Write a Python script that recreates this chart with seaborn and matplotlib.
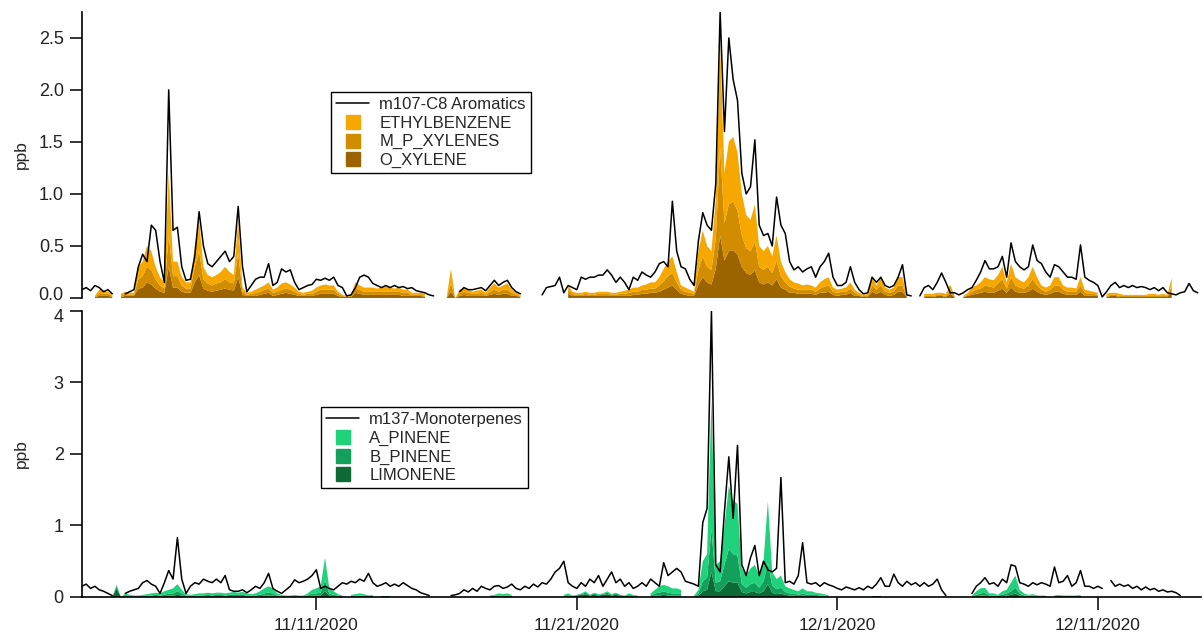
import numpy as np
import pandas as pd
import matplotlib
matplotlib.use("Agg")
import matplotlib.pyplot as plt
import matplotlib.transforms as mtransforms
from matplotlib.lines import Line2D
import seaborn as sns

nan = np.nan

# 4-hourly values, starting 11/2/2020 00:00 (one row = one day)
start_time = "2020-11-02 00:00"
step = "4h"

c8_total = [
    0.08, 0.1, 0.07, 0.12, 0.1, 0.06,
    0.08, 0.04, nan, nan, 0.04, 0.06,
    0.08, 0.3, 0.42, 0.35, 0.7, 0.65,
    0.35, 0.15, 2.0, 0.65, 0.68, 0.3,
    0.17, 0.18, 0.4, 0.83, 0.5, 0.33,
    0.3, 0.35, 0.4, 0.45, 0.35, 0.4,
    0.88, 0.3, 0.06, 0.12, 0.18, 0.2,
    0.2, 0.33, 0.12, 0.15, 0.28, 0.25,
    0.27, 0.15, 0.08, 0.1, 0.12, 0.13,
    0.18, 0.17, 0.19, 0.17, 0.2, 0.12,
    0.1, 0.02, 0.03, 0.1, 0.2, 0.22,
    0.2, 0.14, 0.12, 0.1, 0.12, 0.1,
    0.12, 0.1, 0.11, 0.09, 0.1, 0.07,
    0.06, 0.05, 0.03, 0.02, nan, 0.02,
    nan, 0.02, nan, 0.06, 0.1, 0.08,
    0.08, 0.09, 0.1, 0.07, 0.12, 0.17,
    0.12, 0.15, 0.17, 0.1, 0.06, 0.04,
    nan, nan, nan, nan, 0.03, 0.1,
    0.11, 0.12, 0.2, 0.05, 0.12, 0.1,
    0.08, 0.2, 0.18, 0.2, 0.2, 0.22,
    0.22, 0.27, 0.22, 0.15, 0.2, 0.15,
    0.08, 0.2, 0.17, 0.25, 0.22, 0.2,
    0.25, 0.33, 0.35, 0.3, 0.93, 0.45,
    0.3, 0.28, 0.18, 0.12, 0.55, 0.82,
    0.7, 0.65, 1.1, 2.75, 1.6, 2.5,
    2.1, 1.9, 1.2, 1.0, 1.07, 1.52,
    0.7, 0.6, 0.62, 0.5, 0.97, 0.7,
    0.62, 0.35, 0.27, 0.3, 0.25, 0.28,
    0.3, 0.2, 0.3, 0.35, 0.43, 0.2,
    0.12, 0.12, 0.15, 0.3, 0.15, 0.08,
    0.04, 0.05, 0.2, 0.15, 0.2, 0.12,
    0.1, 0.12, 0.2, 0.32, 0.03, 0.02,
    nan, 0.02, 0.1, 0.12, 0.08, 0.15,
    0.24, 0.15, 0.05, 0.05, 0.03, 0.05,
    0.08, 0.1, 0.17, 0.25, 0.36, 0.28,
    0.28, 0.3, 0.4, 0.2, 0.53, 0.35,
    0.3, 0.27, 0.3, 0.51, 0.36, 0.33,
    0.25, 0.2, 0.32, 0.3, 0.25, 0.2,
    0.2, 0.18, 0.51, 0.2, 0.17, 0.15,
    0.12, 0.01, 0.06, 0.12, 0.15, 0.1,
    0.12, 0.1, 0.12, 0.1, 0.11, 0.1,
    0.08, 0.1, 0.07, 0.1, 0.05, 0.04,
    0.03, 0.05, 0.06, 0.14, 0.07, 0.05,
]

ethylbenzene = [
    nan, nan, nan, 0.01, 0.03, 0.03,
    0.02, 0.01, nan, 0.02, 0.02, 0.02,
    0.02, 0.12, 0.14, 0.2, 0.18, 0.12,
    0.08, 0.06, 0.6, 0.14, 0.14, 0.08,
    0.06, 0.06, 0.2, 0.3, 0.12, 0.08,
    0.08, 0.08, 0.1, 0.12, 0.1, 0.08,
    0.32, 0.04, 0.02, 0.02, 0.03, 0.04,
    0.04, 0.06, 0.03, 0.04, 0.06, 0.06,
    0.05, 0.04, 0.02, 0.02, 0.02, 0.03,
    0.04, 0.04, 0.05, 0.04, 0.04, 0.02,
    0.01, 0.01, 0.01, 0.06, 0.04, 0.04,
    0.04, 0.04, 0.03, 0.04, 0.05, 0.04,
    0.03, 0.04, 0.03, 0.03, 0.02, 0.02,
    0.02, 0.02, nan, nan, nan, nan,
    0.0, 0.14, 0.0, 0.03, 0.04, 0.03,
    0.02, 0.03, 0.03, 0.02, 0.04, 0.06,
    0.04, 0.04, 0.06, 0.03, 0.02, 0.01,
    nan, nan, nan, nan, nan, nan,
    nan, nan, nan, nan, 0.04, 0.02,
    0.02, 0.02, 0.02, 0.02, 0.02, 0.02,
    0.02, 0.02, 0.02, 0.02, 0.02, 0.03,
    0.03, 0.04, 0.04, 0.04, 0.05, 0.06,
    0.06, 0.08, 0.12, 0.14, 0.16, 0.1,
    0.04, 0.04, 0.03, 0.02, 0.18, 0.25,
    0.2, 0.18, 0.38, 1.0, 0.48, 0.6,
    0.62, 0.56, 0.4, 0.32, 0.3, 0.36,
    0.2, 0.18, 0.2, 0.16, 0.24, 0.14,
    0.1, 0.07, 0.06, 0.06, 0.04, 0.05,
    0.04, 0.04, 0.06, 0.07, 0.08, 0.04,
    0.03, 0.03, 0.04, 0.06, 0.03, 0.02,
    0.01, 0.02, 0.08, 0.04, 0.08, 0.04,
    0.03, 0.04, 0.08, 0.08, 0.01, nan,
    nan, nan, 0.02, 0.02, 0.02, 0.02,
    0.02, 0.02, 0.05, 0.01, nan, 0.01,
    0.02, 0.04, 0.04, 0.06, 0.08, 0.07,
    0.07, 0.08, 0.12, 0.06, 0.13, 0.08,
    0.07, 0.06, 0.08, 0.12, 0.08, 0.04,
    0.04, 0.04, 0.08, 0.08, 0.04, 0.04,
    0.04, 0.03, 0.08, 0.03, 0.03, 0.02,
    0.02, nan, 0.02, 0.02, 0.02, 0.02,
    0.01, 0.01, 0.01, 0.01, 0.01, 0.01,
    0.02, 0.02, 0.01, 0.02, 0.01, 0.08,
    nan, nan, nan, nan, nan, nan,
]

mp_xylenes = [
    nan, nan, nan, 0.0, 0.03, 0.02,
    0.02, 0.01, nan, 0.01, 0.02, 0.01,
    0.01, 0.09, 0.11, 0.15, 0.14, 0.09,
    0.06, 0.04, 0.3, 0.11, 0.11, 0.06,
    0.04, 0.04, 0.15, 0.23, 0.09, 0.07,
    0.06, 0.07, 0.07, 0.09, 0.07, 0.07,
    0.23, 0.03, 0.01, 0.02, 0.03, 0.03,
    0.04, 0.04, 0.03, 0.03, 0.04, 0.04,
    0.04, 0.03, 0.02, 0.01, 0.02, 0.02,
    0.03, 0.04, 0.04, 0.04, 0.04, 0.02,
    0.01, 0.0, 0.01, 0.04, 0.04, 0.03,
    0.03, 0.03, 0.03, 0.03, 0.03, 0.03,
    0.03, 0.03, 0.03, 0.03, 0.01, 0.01,
    0.01, 0.01, nan, nan, nan, nan,
    0.0, 0.08, 0.0, 0.03, 0.03, 0.03,
    0.02, 0.02, 0.03, 0.01, 0.03, 0.04,
    0.03, 0.04, 0.04, 0.03, 0.01, 0.01,
    nan, nan, nan, nan, nan, nan,
    nan, nan, nan, nan, 0.04, 0.02,
    0.01, 0.01, 0.02, 0.01, 0.01, 0.02,
    0.02, 0.02, 0.01, 0.01, 0.02, 0.02,
    0.03, 0.03, 0.03, 0.04, 0.04, 0.04,
    0.04, 0.06, 0.08, 0.11, 0.12, 0.07,
    0.04, 0.03, 0.03, 0.02, 0.14, 0.2,
    0.15, 0.14, 0.29, 0.85, 0.36, 0.45,
    0.47, 0.42, 0.3, 0.24, 0.23, 0.27,
    0.15, 0.14, 0.15, 0.12, 0.18, 0.11,
    0.07, 0.06, 0.04, 0.04, 0.04, 0.04,
    0.04, 0.03, 0.04, 0.06, 0.06, 0.03,
    0.03, 0.03, 0.03, 0.04, 0.03, 0.01,
    0.01, 0.01, 0.06, 0.04, 0.06, 0.03,
    0.03, 0.03, 0.06, 0.06, 0.0, nan,
    nan, nan, 0.01, 0.01, 0.01, 0.01,
    0.01, 0.01, 0.04, 0.0, nan, 0.0,
    0.01, 0.03, 0.04, 0.04, 0.06, 0.06,
    0.05, 0.07, 0.09, 0.04, 0.1, 0.06,
    0.05, 0.04, 0.06, 0.09, 0.06, 0.04,
    0.03, 0.04, 0.06, 0.06, 0.04, 0.03,
    0.03, 0.03, 0.06, 0.03, 0.02, 0.02,
    0.01, nan, 0.01, 0.01, 0.01, 0.01,
    0.01, 0.01, 0.01, 0.01, 0.01, 0.01,
    0.01, 0.01, 0.01, 0.01, 0.01, 0.06,
    nan, nan, nan, nan, nan, nan,
]

o_xylene = [
    nan, nan, nan, 0.01, 0.02, 0.02,
    0.02, 0.01, nan, 0.01, 0.02, 0.02,
    0.02, 0.09, 0.1, 0.15, 0.13, 0.09,
    0.06, 0.05, 0.3, 0.1, 0.1, 0.06,
    0.05, 0.05, 0.15, 0.22, 0.09, 0.07,
    0.06, 0.07, 0.08, 0.09, 0.08, 0.07,
    0.2, 0.03, 0.02, 0.02, 0.02, 0.03,
    0.04, 0.05, 0.02, 0.03, 0.04, 0.05,
    0.04, 0.03, 0.02, 0.02, 0.02, 0.02,
    0.03, 0.04, 0.04, 0.04, 0.04, 0.02,
    0.01, 0.01, 0.01, 0.05, 0.04, 0.03,
    0.03, 0.03, 0.03, 0.03, 0.03, 0.03,
    0.03, 0.03, 0.02, 0.02, 0.02, 0.02,
    0.02, 0.01, nan, nan, nan, nan,
    0.0, 0.06, 0.0, 0.02, 0.03, 0.02,
    0.02, 0.02, 0.02, 0.02, 0.03, 0.04,
    0.03, 0.04, 0.04, 0.02, 0.02, 0.01,
    nan, nan, nan, nan, nan, nan,
    nan, nan, nan, nan, 0.04, 0.02,
    0.02, 0.02, 0.02, 0.02, 0.02, 0.02,
    0.02, 0.02, 0.02, 0.02, 0.02, 0.02,
    0.02, 0.03, 0.03, 0.04, 0.04, 0.05,
    0.05, 0.06, 0.08, 0.1, 0.12, 0.08,
    0.04, 0.03, 0.02, 0.02, 0.13, 0.2,
    0.15, 0.13, 0.28, 0.6, 0.36, 0.45,
    0.46, 0.42, 0.3, 0.24, 0.22, 0.27,
    0.15, 0.13, 0.15, 0.12, 0.18, 0.1,
    0.08, 0.05, 0.05, 0.04, 0.04, 0.04,
    0.04, 0.03, 0.05, 0.05, 0.06, 0.03,
    0.02, 0.03, 0.03, 0.05, 0.02, 0.02,
    0.01, 0.01, 0.06, 0.04, 0.06, 0.03,
    0.02, 0.03, 0.06, 0.06, 0.01, nan,
    nan, nan, 0.01, 0.01, 0.01, 0.02,
    0.02, 0.01, 0.04, 0.01, nan, 0.01,
    0.02, 0.03, 0.04, 0.05, 0.06, 0.05,
    0.05, 0.07, 0.09, 0.05, 0.1, 0.06,
    0.05, 0.05, 0.06, 0.09, 0.06, 0.04,
    0.03, 0.04, 0.06, 0.06, 0.04, 0.03,
    0.03, 0.03, 0.06, 0.02, 0.02, 0.02,
    0.02, nan, 0.01, 0.02, 0.02, 0.01,
    0.01, 0.01, 0.01, 0.01, 0.01, 0.01,
    0.01, 0.01, 0.01, 0.01, 0.01, 0.05,
    nan, nan, nan, nan, nan, nan,
]

mt_total = [
    0.15, 0.18, 0.12, 0.15, 0.1, 0.08,
    0.05, 0.02, nan, nan, 0.05, 0.08,
    0.1, 0.12, 0.2, 0.23, 0.18, 0.15,
    0.05, 0.2, 0.37, 0.25, 0.83, 0.25,
    0.05, 0.15, 0.2, 0.18, 0.25, 0.22,
    0.2, 0.25, 0.2, 0.3, 0.1, 0.08,
    0.08, 0.1, 0.06, 0.1, 0.15, 0.12,
    0.2, 0.33, 0.12, 0.08, 0.05, 0.1,
    0.15, 0.24, 0.2, 0.22, 0.25, 0.3,
    0.38, 0.12, 0.15, 0.12, 0.1, 0.15,
    0.2, 0.18, 0.22, 0.2, 0.25, 0.22,
    0.33, 0.2, 0.15, 0.17, 0.2, 0.15,
    0.18, 0.15, 0.2, 0.16, 0.12, 0.1,
    0.06, 0.04, 0.02, nan, nan, nan,
    nan, 0.02, 0.03, 0.05, 0.1, 0.07,
    0.12, 0.08, 0.15, 0.12, 0.1, 0.15,
    0.16, 0.12, 0.14, 0.18, 0.12, 0.1,
    0.15, 0.12, 0.18, 0.14, 0.2, 0.18,
    0.25, 0.35, 0.4, 0.5, 0.2, 0.15,
    0.12, 0.2, 0.15, 0.25, 0.2, 0.3,
    0.15, 0.25, 0.35, 0.2, 0.25, 0.15,
    0.2, 0.12, 0.15, 0.2, 0.15, 0.25,
    0.2, 0.15, 0.48, 0.3, 0.35, 0.4,
    0.35, 0.22, 0.2, 0.18, 0.15, 1.04,
    1.24, 4.0, 0.45, 0.35, 1.2, 1.96,
    1.1, 2.12, 0.45, 0.3, 0.55, 0.72,
    0.3, 0.5, 0.38, 0.35, 0.4, 1.67,
    0.2, 0.22, 0.18, 0.3, 0.76, 0.2,
    0.18, 0.2, 0.15, 0.2, 0.17, 0.15,
    0.12, 0.1, 0.14, 0.12, 0.1, 0.13,
    0.1, 0.15, 0.12, 0.18, 0.27, 0.15,
    0.15, 0.32, 0.2, 0.15, 0.22, 0.17,
    0.2, 0.15, 0.2, 0.15, 0.18, 0.25,
    0.1, 0.02, nan, 0.02, nan, 0.02,
    nan, 0.05, 0.15, 0.2, 0.27, 0.18,
    0.2, 0.15, 0.25, 0.2, 0.45, 0.43,
    0.2, 0.18, 0.15, 0.2, 0.17, 0.2,
    0.18, 0.15, 0.42, 0.2, 0.22, 0.3,
    0.15, 0.2, 0.37, 0.15, 0.15, 0.12,
    0.15, 0.12, nan, 0.23, 0.15, 0.18,
    0.15, 0.17, 0.12, 0.15, 0.1, 0.14,
    0.1, 0.12, 0.08, 0.1, 0.07, 0.08,
    0.06, 0.02, nan, 0.02, nan, nan,
]

a_pinene = [
    nan, nan, nan, nan, 0.0, nan,
    nan, 0.0, 0.02, 0.0, 0.02, 0.01,
    0.01, 0.01, 0.01, 0.02, 0.03, 0.03,
    0.03, 0.05, 0.05, 0.07, 0.1, 0.05,
    0.02, 0.01, 0.02, 0.03, 0.03, 0.03,
    0.03, 0.03, 0.03, 0.03, 0.03, 0.04,
    0.03, 0.04, 0.03, 0.02, 0.03, 0.05,
    0.07, 0.09, 0.07, 0.03, 0.01, 0.01,
    0.01, 0.01, 0.01, 0.01, 0.03, 0.05,
    0.07, 0.09, 0.32, 0.07, 0.05, 0.02,
    0.01, nan, 0.01, 0.02, 0.03, 0.02,
    0.01, 0.01, nan, 0.01, 0.01, 0.01,
    nan, 0.01, nan, nan, nan, nan,
    nan, nan, nan, nan, nan, nan,
    nan, nan, nan, nan, nan, nan,
    nan, nan, nan, nan, 0.01, 0.01,
    0.03, 0.02, 0.03, 0.01, nan, nan,
    nan, nan, nan, nan, nan, nan,
    nan, nan, nan, 0.01, 0.02, 0.01,
    0.0, 0.01, 0.02, 0.0, 0.01, 0.01,
    0.01, 0.02, 0.01, 0.01, 0.0, 0.01,
    0.02, 0.01, 0.01, nan, nan, 0.03,
    0.05, 0.09, 0.09, 0.09, 0.07, 0.07,
    0.05, nan, nan, 0.01, 0.05, 0.28,
    0.33, 1.81, 0.25, 0.28, 0.55, 0.88,
    0.75, 0.72, 0.22, 0.17, 0.22, 0.25,
    0.17, 0.28, 0.86, 0.19, 0.14, 0.17,
    0.08, 0.07, 0.05, 0.05, 0.07, 0.05,
    0.05, 0.03, 0.03, 0.02, 0.01, nan,
    0.01, nan, nan, nan, nan, nan,
    nan, nan, 0.01, 0.01, 0.01, nan,
    nan, nan, nan, nan, nan, nan,
    nan, nan, nan, nan, nan, nan,
    nan, nan, nan, nan, nan, nan,
    nan, 0.01, 0.05, 0.07, 0.07, 0.03,
    0.03, 0.01, 0.05, 0.05, 0.12, 0.17,
    0.05, 0.03, 0.01, 0.02, 0.01, 0.01,
    0.01, nan, 0.01, 0.01, 0.01, 0.01,
    0.01, 0.01, 0.01, nan, nan, nan,
    nan, nan, nan, nan, nan, nan,
    nan, nan, nan, nan, nan, nan,
    nan, nan, nan, nan, nan, nan,
    nan, nan, nan, nan, nan, nan,
]

b_pinene = [
    nan, nan, nan, nan, 0.01, nan,
    nan, 0.0, 0.03, 0.0, 0.01, 0.01,
    0.0, 0.0, 0.01, 0.01, 0.01, 0.02,
    0.01, 0.02, 0.03, 0.03, 0.05, 0.03,
    0.01, 0.01, 0.01, 0.01, 0.01, 0.02,
    0.01, 0.02, 0.02, 0.01, 0.02, 0.02,
    0.02, 0.02, 0.01, 0.01, 0.01, 0.02,
    0.03, 0.04, 0.03, 0.01, 0.01, 0.0,
    0.0, 0.01, 0.0, 0.0, 0.01, 0.03,
    0.03, 0.04, 0.15, 0.03, 0.02, 0.01,
    0.0, nan, 0.01, 0.01, 0.01, 0.01,
    0.0, 0.01, nan, 0.0, 0.0, 0.0,
    nan, 0.0, nan, nan, nan, nan,
    nan, nan, nan, nan, nan, nan,
    nan, nan, nan, nan, nan, nan,
    nan, nan, nan, nan, 0.0, 0.01,
    0.01, 0.01, 0.01, 0.01, nan, nan,
    nan, nan, nan, nan, nan, nan,
    nan, nan, nan, 0.01, 0.01, 0.0,
    0.01, 0.01, 0.02, 0.01, 0.02, 0.01,
    0.01, 0.02, 0.01, 0.02, 0.01, 0.0,
    0.01, 0.01, 0.0, nan, nan, 0.01,
    0.03, 0.04, 0.05, 0.04, 0.03, 0.03,
    0.03, nan, nan, 0.0, 0.03, 0.14,
    0.17, 0.6, 0.12, 0.14, 0.3, 0.45,
    0.4, 0.38, 0.11, 0.08, 0.11, 0.13,
    0.08, 0.14, 0.3, 0.1, 0.07, 0.08,
    0.04, 0.03, 0.03, 0.02, 0.03, 0.02,
    0.02, 0.02, 0.01, 0.01, 0.0, nan,
    0.0, nan, nan, nan, nan, nan,
    nan, nan, 0.0, 0.0, 0.0, nan,
    nan, nan, nan, nan, nan, nan,
    nan, nan, nan, nan, nan, nan,
    nan, nan, nan, nan, nan, nan,
    nan, 0.0, 0.02, 0.03, 0.04, 0.01,
    0.01, 0.01, 0.02, 0.03, 0.05, 0.08,
    0.03, 0.01, 0.01, 0.01, 0.0, 0.0,
    0.0, nan, 0.0, 0.01, 0.0, 0.0,
    0.0, 0.0, 0.01, nan, nan, nan,
    nan, nan, nan, nan, nan, nan,
    nan, nan, nan, nan, nan, nan,
    nan, nan, nan, nan, nan, nan,
    nan, nan, nan, nan, nan, nan,
]

limonene = [
    nan, nan, nan, nan, 0.01, nan,
    nan, 0.0, 0.12, 0.0, 0.02, 0.01,
    0.01, 0.01, 0.01, 0.01, 0.01, 0.01,
    0.01, 0.01, 0.02, 0.02, 0.03, 0.02,
    0.01, 0.01, 0.01, 0.01, 0.01, 0.01,
    0.01, 0.01, 0.01, 0.01, 0.01, 0.01,
    0.01, 0.01, 0.01, 0.01, 0.01, 0.01,
    0.02, 0.02, 0.02, 0.01, 0.01, 0.01,
    0.01, 0.01, 0.01, 0.01, 0.01, 0.02,
    0.02, 0.02, 0.08, 0.02, 0.01, 0.01,
    0.01, nan, 0.01, 0.01, 0.01, 0.01,
    0.01, 0.01, nan, 0.01, 0.01, 0.01,
    nan, 0.01, nan, nan, nan, nan,
    nan, nan, nan, nan, nan, nan,
    nan, nan, nan, nan, nan, nan,
    nan, nan, nan, nan, 0.01, 0.01,
    0.01, 0.01, 0.01, 0.01, nan, nan,
    nan, nan, nan, nan, nan, nan,
    nan, nan, nan, 0.01, 0.02, 0.01,
    0.02, 0.03, 0.04, 0.02, 0.03, 0.02,
    0.03, 0.04, 0.02, 0.03, 0.02, 0.01,
    0.02, 0.01, 0.01, nan, nan, 0.01,
    0.02, 0.02, 0.03, 0.02, 0.02, 0.02,
    0.02, nan, nan, 0.01, 0.02, 0.08,
    0.1, 0.35, 0.08, 0.08, 0.15, 0.22,
    0.2, 0.2, 0.07, 0.05, 0.07, 0.07,
    0.05, 0.08, 0.18, 0.06, 0.04, 0.05,
    0.03, 0.02, 0.02, 0.01, 0.02, 0.01,
    0.01, 0.01, 0.01, 0.01, 0.01, nan,
    0.01, nan, nan, nan, nan, nan,
    nan, nan, 0.01, 0.01, 0.01, nan,
    nan, nan, nan, nan, nan, nan,
    nan, nan, nan, nan, nan, nan,
    nan, nan, nan, nan, nan, nan,
    nan, 0.01, 0.01, 0.02, 0.02, 0.01,
    0.01, 0.01, 0.01, 0.02, 0.03, 0.05,
    0.02, 0.01, 0.01, 0.01, 0.01, 0.01,
    0.01, nan, 0.01, 0.01, 0.01, 0.01,
    0.01, 0.01, 0.01, nan, nan, nan,
    nan, nan, nan, nan, nan, nan,
    nan, nan, nan, nan, nan, nan,
    nan, nan, nan, nan, nan, nan,
    nan, nan, nan, nan, nan, nan,
]

c8_names = ["ETHYLBENZENE", "M_P_XYLENES", "O_XYLENE"]
c8_colors = ["#f6a700", "#d28c00", "#9b6400"]
mt_names = ["A_PINENE", "B_PINENE", "LIMONENE"]
mt_colors = ["#1fd27b", "#12a05a", "#0b6a36"]

c8_yticks = [0.0, 0.5, 1.0, 1.5, 2.0, 2.5]
mt_yticks = [0, 1, 2, 3, 4]
tick_dates = ["2020-11-11", "2020-11-21", "2020-12-01", "2020-12-11"]
tick_labels = ["11/11/2020", "11/21/2020", "12/1/2020", "12/11/2020"]

t = pd.date_range(start_time, periods=len(c8_total), freq=step)


def draw_panel(ax, total, parts, names, colors, line_name, anchor):
    # stacked fills, darkest compound at the bottom
    base = np.zeros(len(t))
    for vals, col in zip(parts[::-1], colors[::-1]):
        top = base + np.array(vals, dtype=float)
        ax.fill_between(t, base, top, color=col, lw=0, zorder=1)
        base = top
    # black total line, broken where there is no data
    df = pd.DataFrame({"t": t, "v": total})
    df["seg"] = df["v"].isna().cumsum()
    df = df.dropna()
    sns.lineplot(data=df, x="t", y="v", units="seg", estimator=None,
                 color="black", lw=1.1, ax=ax, legend=False, zorder=3)
    handles = [Line2D([], [], color="black", lw=1.1, label=line_name)]
    for n, c in zip(names, colors):
        handles.append(Line2D([], [], ls="", marker="s", markersize=10,
                              markerfacecolor=c, markeredgecolor=c, label=n))
    leg = ax.legend(handles=handles, loc="upper left", bbox_to_anchor=anchor,
                    borderaxespad=0, frameon=True, fancybox=False,
                    edgecolor="black", framealpha=1, fontsize=12,
                    handlelength=2.0, labelspacing=0.22, borderpad=0.3,
                    handletextpad=0.6)
    leg.get_frame().set_linewidth(1.0)
    ax.set_xlabel("")
    ax.set_ylabel("ppb", fontsize=12.5)
    ax.yaxis.set_label_coords(-0.047, 0.5)


sns.set_theme(style="ticks")
plt.rcParams["font.family"] = ["Liberation Sans", "DejaVu Sans"]

fig = plt.figure(figsize=(12.04, 6.4), dpi=100)
ax1 = fig.add_axes([0.068, 0.5344, 0.9295, 0.447])
ax2 = fig.add_axes([0.068, 0.0672, 0.9295, 0.447], sharex=ax1)

draw_panel(ax1, c8_total, [ethylbenzene, mp_xylenes, o_xylene], c8_names, c8_colors,
           "m107-C8 Aromatics", (0.2225, 0.72))
draw_panel(ax2, mt_total, [a_pinene, b_pinene, limonene], mt_names, mt_colors,
           "m137-Monoterpenes", (0.2136, 0.664))

for ax in (ax1, ax2):
    sns.despine(ax=ax)
    ax.spines["left"].set_color("black")
    ax.spines["left"].set_linewidth(1.2)
    ax.spines["bottom"].set_color("black")
    ax.spines["bottom"].set_linewidth(1.2)
    ax.tick_params(axis="y", direction="out", length=9, width=1.1, color="black",
                   labelsize=13, labelcolor="#222222", pad=4)

ax1.set_ylim(0, 2.75)
ax1.set_yticks(c8_yticks)
ax1.set_yticklabels([f"{v:.1f}" for v in c8_yticks])
ax1.spines["bottom"].set_visible(False)
ax1.tick_params(axis="x", bottom=False, labelbottom=False)

ax2.set_ylim(0, 4)
ax2.set_yticks(mt_yticks)
ax2.set_yticklabels([str(v) for v in mt_yticks])
ax2.set_xlim(pd.Timestamp("2020-11-02 00:00"), pd.Timestamp("2020-12-14 23:00"))
ax2.set_xticks(pd.to_datetime(tick_dates))
ax2.set_xticklabels(tick_labels)
ax2.minorticks_off()
ax2.tick_params(axis="x", direction="out", length=9, width=1.1, color="black",
                labelsize=12.5, labelcolor="#222222", pad=6)

# nudge the two tick labels that meet between the panels apart a little
lab0 = ax1.yaxis.get_major_ticks()[0].label1
lab0.set_transform(lab0.get_transform()
                   + mtransforms.ScaledTranslation(0, 3 / 72, fig.dpi_scale_trans))
lab4 = ax2.yaxis.get_major_ticks()[-1].label1
lab4.set_transform(lab4.get_transform()
                   + mtransforms.ScaledTranslation(0, -3 / 72, fig.dpi_scale_trans))

fig.savefig("out.png", dpi=100)
